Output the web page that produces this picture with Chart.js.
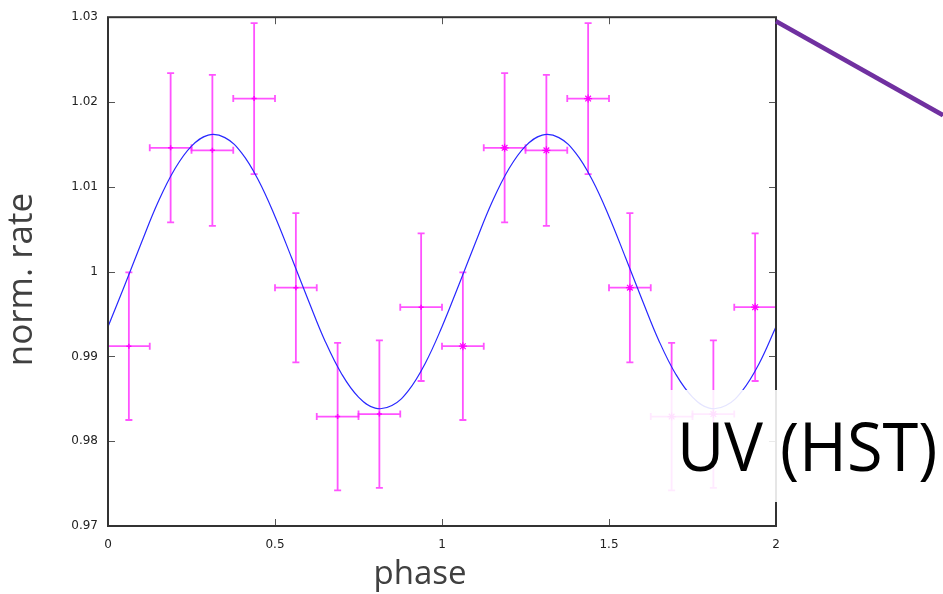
<!DOCTYPE html>
<html>
<head>
<meta charset="utf-8">
<script src="https://cdn.jsdelivr.net/npm/chart.js@4.4.1/dist/chart.umd.min.js"></script>
<style>
  html, body { margin: 0; padding: 0; background: #fff; }
  #wrap { width: 943px; height: 594px; }
</style>
</head>
<body>
<div id="wrap"><canvas id="myChart" width="943" height="594"></canvas></div>
<script>
// Binned light curve (two cycles shown)
var phase = [0.0625, 0.1875, 0.3125, 0.4375, 0.5625, 0.6875, 0.8125, 0.9375,
             1.0625, 1.1875, 1.3125, 1.4375, 1.5625, 1.6875, 1.8125, 1.9375];
var rate = [0.9912, 1.0146, 1.0143, 1.0204, 0.9981, 0.9829, 0.9832, 0.9958,
            0.9912, 1.0146, 1.0143, 1.0204, 0.9981, 0.9829, 0.9832, 0.9958];
var rateErr = [0.0087, 0.0088, 0.0089, 0.0089, 0.0088, 0.0087, 0.0087, 0.0087,
               0.0087, 0.0088, 0.0089, 0.0089, 0.0088, 0.0087, 0.0087, 0.0087];
var phaseErr = [0.0625, 0.0625, 0.0625, 0.0625, 0.0625, 0.0625, 0.0625, 0.0625,
                0.0625, 0.0625, 0.0625, 0.0625, 0.0625, 0.0625, 0.0625, 0.0625];

// Fitted curve, every 0.05 in phase
var fitPhase = [0, 0.05, 0.1, 0.15, 0.2, 0.25, 0.3, 0.35, 0.4, 0.45, 0.5, 0.55, 0.6, 0.65, 0.7,
                0.75, 0.8, 0.85, 0.9, 0.95, 1, 1.05, 1.1, 1.15, 1.2, 1.25, 1.3, 1.35, 1.4, 1.45,
                1.5, 1.55, 1.6, 1.65, 1.7, 1.75, 1.8, 1.85, 1.9, 1.95, 2];
var fitRate = [0.9935, 0.9984, 1.0034, 1.0082, 1.0121, 1.0148, 1.0161, 1.0158, 1.0140, 1.0108,
               1.0065, 1.0016, 0.9966, 0.9918, 0.9879, 0.9852, 0.9839, 0.9842, 0.9860, 0.9892,
               0.9935, 0.9984, 1.0034, 1.0082, 1.0121, 1.0148, 1.0161, 1.0158, 1.0140, 1.0108,
               1.0065, 1.0016, 0.9966, 0.9918, 0.9879, 0.9852, 0.9839, 0.9842, 0.9860, 0.9892,
               0.9935];

var xTicks = [0, 0.5, 1, 1.5, 2];
var yTicks = [0.97, 0.98, 0.99, 1, 1.01, 1.02, 1.03];

var errColor = 'rgba(255, 40, 255, 0.8)';

var fitData = fitPhase.map((p, i) => ({ x: p, y: fitRate[i] }));
var firstCycle = [], secondCycle = [];
phase.forEach((p, i) => {
    var pt = { x: p, y: rate[i] };
    if (p < 1) firstCycle.push(pt); else secondCycle.push(pt);
});

// error bars, drawn through the chart's scales
var errorBars = {
    id: 'errorBars',
    beforeDatasetsDraw(chart) {
        var ctx = chart.ctx, xs = chart.scales.x, ys = chart.scales.y;
        var cap = 3.5;
        ctx.save();
        ctx.strokeStyle = errColor;
        ctx.lineWidth = 1.8;
        phase.forEach((p, i) => {
            var px = xs.getPixelForValue(p);
            var py = ys.getPixelForValue(rate[i]);
            var yTop = ys.getPixelForValue(rate[i] + rateErr[i]);
            var yBot = ys.getPixelForValue(rate[i] - rateErr[i]);
            var xL = xs.getPixelForValue(p - phaseErr[i]);
            var xR = xs.getPixelForValue(p + phaseErr[i]);
            ctx.beginPath();
            ctx.moveTo(px, yTop); ctx.lineTo(px, yBot);
            ctx.moveTo(px - cap, yTop); ctx.lineTo(px + cap, yTop);
            ctx.moveTo(px - cap, yBot); ctx.lineTo(px + cap, yBot);
            ctx.moveTo(xL, py); ctx.lineTo(xR, py);
            ctx.moveTo(xL, py - cap); ctx.lineTo(xL, py + cap);
            ctx.moveTo(xR, py - cap); ctx.lineTo(xR, py + cap);
            ctx.stroke();
        });
        ctx.restore();
    }
};

// gnuplot-like frame with inward ticks on all four sides
var frame = {
    id: 'frame',
    afterDatasetsDraw(chart) {
        var ctx = chart.ctx, a = chart.chartArea, xs = chart.scales.x, ys = chart.scales.y;
        var t = 7;
        ctx.save();
        ctx.strokeStyle = '#555';
        ctx.lineWidth = 1;
        ctx.beginPath();
        xTicks.forEach(v => {
            var px = Math.round(xs.getPixelForValue(v)) + 0.5;
            ctx.moveTo(px, a.bottom); ctx.lineTo(px, a.bottom - t);
            ctx.moveTo(px, a.top); ctx.lineTo(px, a.top + t);
        });
        yTicks.forEach(v => {
            var py = Math.round(ys.getPixelForValue(v)) + 0.5;
            ctx.moveTo(a.left, py); ctx.lineTo(a.left + t, py);
            ctx.moveTo(a.right, py); ctx.lineTo(a.right - t, py);
        });
        ctx.stroke();
        ctx.strokeStyle = '#333';
        ctx.lineWidth = 2;
        ctx.strokeRect(a.left, a.top, a.right - a.left, a.bottom - a.top);
        ctx.restore();
    },
    afterDraw(chart) {
        var ctx = chart.ctx, a = chart.chartArea;
        ctx.save();
        // axis titles
        ctx.fillStyle = '#404040';
        ctx.textAlign = 'center';
        ctx.textBaseline = 'middle';
        ctx.font = '33px "Open Sans"';
        ctx.fillText('phase', (a.left + a.right) / 2 - 22, a.bottom + 49);
        ctx.font = '35px "Open Sans"';
        ctx.translate(22, (a.top + a.bottom) / 2 + 8);
        ctx.rotate(-Math.PI / 2);
        ctx.fillText('norm. rate', 0, 0);
        ctx.restore();

        // slide decoration: purple connector line
        ctx.save();
        ctx.strokeStyle = '#7030a0';
        ctx.lineWidth = 4.5;
        ctx.beginPath();
        ctx.moveTo(a.right, a.top + 4);
        ctx.lineTo(chart.width, a.top + 98);
        ctx.stroke();

        // label box
        ctx.fillStyle = 'rgba(255,255,255,0.88)';
        ctx.fillRect(a.right - 127, a.bottom - 136, chart.width - a.right + 127, 112);
        ctx.fillStyle = '#000';
        ctx.font = '68px "Open Sans"';
        ctx.textAlign = 'left';
        ctx.textBaseline = 'alphabetic';
        ctx.translate(a.right - 99, a.bottom - 55);
        ctx.scale(0.955, 1);
        ctx.fillText('UV (HST)', 0, 0);
        ctx.restore();
    }
};

var ctx = document.getElementById('myChart').getContext('2d');

var myChart = new Chart(ctx, {
    type: 'scatter',
    data: {
        datasets: [
            {
                label: 'fit',
                data: fitData,
                showLine: true,
                borderColor: 'rgb(40, 40, 255)',
                borderWidth: 1.2,
                pointRadius: 0,
                tension: 0.4,
                order: 2
            },
            {
                label: 'data',
                data: firstCycle,
                pointStyle: 'cross',
                pointRadius: 2.5,
                borderColor: 'rgb(255, 0, 255)',
                borderWidth: 1.5,
                order: 1
            },
            {
                label: 'data (repeat)',
                data: secondCycle,
                pointStyle: 'star',
                pointRadius: 4,
                borderColor: 'rgb(255, 0, 255)',
                borderWidth: 1.2,
                order: 1
            }
        ]
    },
    options: {
        responsive: false,
        animation: false,
        devicePixelRatio: 1,
        layout: { padding: { top: 14, right: 167, left: 0, bottom: 0 } },
        plugins: {
            legend: { display: false },
            tooltip: { enabled: false }
        },
        scales: {
            x: {
                type: 'linear',
                min: 0,
                max: 2,
                afterFit: s => { s.height = 68; },
                afterBuildTicks: s => { s.ticks = xTicks.map(v => ({ value: v })); },
                grid: { display: false, drawTicks: false },
                border: { display: false },
                ticks: {
                    padding: 12,
                    color: '#222',
                    font: { family: 'DejaVu Sans', size: 12 },
                    callback: v => String(v)
                }
            },
            y: {
                min: 0.97,
                max: 1.03,
                afterFit: s => { s.width = 108; },
                afterBuildTicks: s => { s.ticks = yTicks.map(v => ({ value: v })); },
                grid: { display: false, drawTicks: false },
                border: { display: false },
                ticks: {
                    padding: 10,
                    color: '#222',
                    font: { family: 'DejaVu Sans', size: 12 },
                    callback: v => (Math.abs(v - 1) < 1e-9 ? '1' : v.toFixed(2))
                }
            }
        }
    },
    plugins: [errorBars, frame]
});
</script>
</body>
</html>
